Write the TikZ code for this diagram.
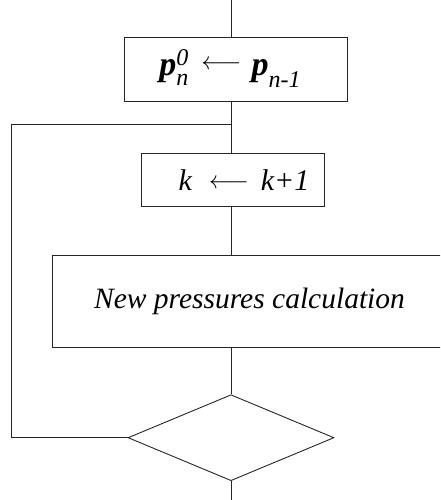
\documentclass[tikz,border=0pt]{standalone}
\usepackage{fontspec}
\setmainfont{Liberation Serif}
\usetikzlibrary{positioning, shapes.geometric}

\newcommand{\pvec}{{\fontsize{34}{40}\selectfont\bfseries\itshape p}}
\newcommand{\scrfont}{\fontsize{24}{28}\selectfont\itshape}
\newcommand{\assign}[2]{\raisebox{#2}{\fontsize{#1}{28}\selectfont$\longleftarrow$}}

\begin{document}
\begin{tikzpicture}[
    x=1pt, y=1pt,
    line width=0.9pt, draw=black!85,
    box/.style  = {draw, rectangle, inner sep=0pt, align=center,
                   font=\fontsize{30}{34}\selectfont\itshape},
    test/.style = {draw, diamond, inner sep=0pt,
                   minimum width=206pt, minimum height=86pt},
    flow/.style = {line width=0.9pt, black!85}
]
\clip (0,0) rectangle (440,-500);

%% -- spine and loop coordinates ---------------------------------------------
\coordinate (top) at (231,0);
\coordinate (join) at (231,-124);
\coordinate (corner) at (11,-124);

%% -- blocks ------------------------------------------------------------------
\node[box, minimum width=223pt, minimum height=64pt] (init) at (235.5,-69)
    {\pvec\rlap{\raisebox{10pt}{\scrfont 0}}\raisebox{-10pt}{\scrfont n}%
     \hspace{13pt}\assign{24}{6.6pt}\hspace{10pt}%
     \pvec\raisebox{-12pt}{\scrfont n-1}\hspace*{11pt}};

\node[box, minimum width=183pt, minimum height=53pt,
      below=52pt of init, xshift=-3pt] (iter)
    {\hspace*{23pt}\textit{k}\hspace{17pt}\assign{26}{2pt}\hspace{12pt}\textit{k}+\textit{1}};

\node[box, minimum width=395pt, minimum height=92pt,
      below=48pt of iter, xshift=17pt] (calc)
    {\fontsize{29.5}{34}\selectfont New pressures calculation};

\node[test, below=46pt of calc, xshift=-18.5pt] (conv) {};
\coordinate[below=40pt of conv.south] (out);

%% -- connectors --------------------------------------------------------------
\draw[flow] (top) -- (top |- init.north);
\draw[flow] (join |- init.south) -- (join |- iter.north);
\draw[flow] (join |- iter.south) -- (join |- calc.north);
\draw[flow] (join |- calc.south) -- (conv.north);
\draw[flow] (conv.south) -- (out);

%% -- loop back ---------------------------------------------------------------
\draw[flow] (conv.west) -| (corner) -- (join);

\end{tikzpicture}
\end{document}
